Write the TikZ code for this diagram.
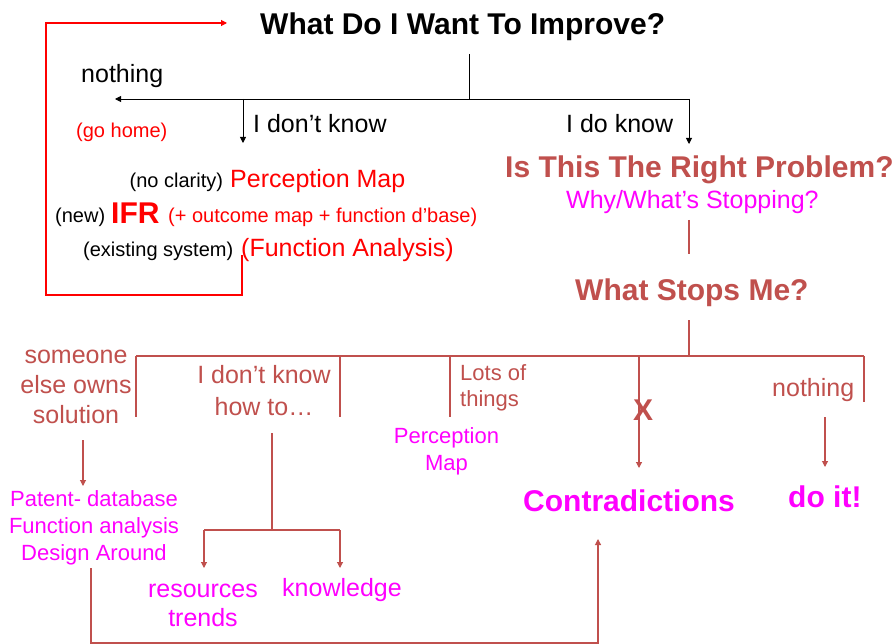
\documentclass[tikz,border=0pt]{standalone}
\usepackage{fontspec}
\setmainfont{Liberation Sans}
\usetikzlibrary{arrows.meta}

\definecolor{brn}{HTML}{C0504D}
\definecolor{mag}{HTML}{FF00FF}
\definecolor{rd}{HTML}{FF0000}

\tikzset{
  lt/.style={inner sep=0pt, anchor=base west},
  ct/.style={inner sep=0pt, anchor=base, align=center},
  hd/.style={font=\fontsize{30}{36}\selectfont\bfseries},
  md/.style={font=\fontsize{25}{30}\selectfont},
  sm/.style={font=\fontsize{20}{24}\selectfont},
  tip/.style={-{Triangle[width=6pt,length=6pt]}},
  blk/.style={draw=black, line width=0.9pt},
  bline/.style={draw=brn, line width=1.1pt},
  rline/.style={draw=rd, line width=1.1pt},
}

\begin{document}
\begin{tikzpicture}[x=1pt, y=-1pt]
\useasboundingbox[fill=white] (0,0) rectangle (896,644);

% ---------- upper part ----------
\node[lt, hd] (title) at (260,35) {What Do I Want To Improve?};
\node[lt, md] (none) at (81,83) {nothing};
\node[lt, sm, text=rd] (home) at (76,138) {(go home)};
\node[lt, md] (idk) at (253,133) {I don’t know};
\node[lt, md] (ido) at (566,133) {I do know};

\node[lt, sm] (noclar) at (129.5,188) {(no clarity)};
\node[lt, md, text=rd] (pmap) at (230,188) {Perception Map};
\node[lt, sm] (new) at (55,223) {(new)};
\node[lt, hd, text=rd] (ifr) at (111,224) {IFR};
\node[lt, sm, text=rd] (outc) at (168,223) {(+ outcome map + function d’base)};
\node[lt, sm] (exist) at (83,256) {(existing system)};
\node[lt, md, text=rd] (fa) at (241,257) {(Function Analysis)};

\node[lt, hd, text=brn] (rp) at (505,178) {Is This The Right Problem?};
\node[lt, md, text=mag] (why) at (566,209) {Why/What’s Stopping?};
\node[lt, hd, text=brn] (wsm) at (575,300) {What Stops Me?};

% junctions of the upper tree
\coordinate (t0) at (469,54);
\coordinate (tj) at (469,99);
\coordinate (tl) at (115,99);
\coordinate (tm) at (243,99);
\coordinate (tr) at (689,99);
\coordinate (tmd) at (243,143);
\coordinate (trd) at (689,144);

\draw[blk] (t0) -- (tj);
\draw[blk, tip] (tr) -- (tl);
\draw[blk, tip] (tm) -- (tmd);
\draw[blk, tip] (tr) -- (trd);

% loop back to the question
\coordinate (l0) at (242,255);
\coordinate (l1) at (242,295);
\coordinate (l2) at (46,295);
\coordinate (l3) at (46,23);
\coordinate (l4) at (227,23);
\draw[rline, tip] (l0) -- (l1) -- (l2) -- (l3) -- (l4);

% link between the two questions
\coordinate (w0) at (689,220);
\coordinate (w1) at (689,254);
\draw[bline] (w0) -- (w1);

% ---------- lower part ----------
% (base anchor of a multi-line node sits on its last line)
\node[ct, text=brn, font=\fontsize{25}{30}\selectfont] (owns) at (76,423) {someone\\else owns\\solution};
\node[ct, text=brn, font=\fontsize{25}{31.7}\selectfont] (howto) at (264,415) {I don’t know\\how to…};
\node[inner sep=0pt, anchor=base west, align=left, text=brn, font=\fontsize{22}{26.7}\selectfont] (lots) at (460,406.7) {Lots of\\things};
\node[ct, hd, text=brn] (x) at (643,420) {X};
\node[lt, md, text=brn] (none2) at (772,396.7) {nothing};
\node[ct, text=mag, font=\fontsize{22}{27}\selectfont] (pm2) at (446.5,470) {Perception\\Map};
\node[ct, text=mag, font=\fontsize{22}{27}\selectfont] (patent) at (94,560) {Patent- database\\Function analysis\\Design Around};
\node[ct, text=mag, font=\fontsize{25}{29}\selectfont] (res) at (203,626.7) {resources\\trends};
\node[lt, md, text=mag] (know) at (282,596) {knowledge};
\node[lt, hd, text=mag] (contra) at (523,511.7) {Contradictions};
\node[lt, hd, text=mag] (doit) at (788,507.7) {do it!};

% branches under "What Stops Me?"
\coordinate (s0) at (689,320);
\coordinate (s1) at (689,356);
\coordinate (bl) at (136,356);
\coordinate (br) at (864,356);
\coordinate (b1) at (340,356);
\coordinate (b2) at (450,356);
\coordinate (b3) at (639,356);
\draw[bline] (s0) -- (s1);
\draw[bline] (bl) -- (br);
\draw[bline] (bl) -- (136,417);
\draw[bline] (b1) -- (340,417);
\draw[bline] (b2) -- (450,417);
\draw[bline] (br) -- (864,402);
\draw[bline, tip] (b3) -- (639,468);

% arrows into the outcomes
\draw[bline, tip] (83,440) coordinate (o0) -- (83,486) coordinate (o1);
\draw[bline, tip] (825,417) coordinate (d0) -- (825,467) coordinate (d1);

\coordinate (h0) at (272,433);
\coordinate (h1) at (272,530);
\coordinate (hl) at (204,530);
\coordinate (hr) at (340,530);
\draw[bline] (h0) -- (h1);
\draw[bline] (hl) -- (hr);
\draw[bline, tip] (hl) -- (204,568);
\draw[bline, tip] (hr) -- (340,568);

% route from the patent search to contradictions
\coordinate (p0) at (91,568);
\coordinate (p1) at (91,643);
\coordinate (p2) at (598,643);
\coordinate (p3) at (598,539);
\draw[bline, tip] (p0) -- (p1) -- (p2) -- (p3);
\end{tikzpicture}
\end{document}
